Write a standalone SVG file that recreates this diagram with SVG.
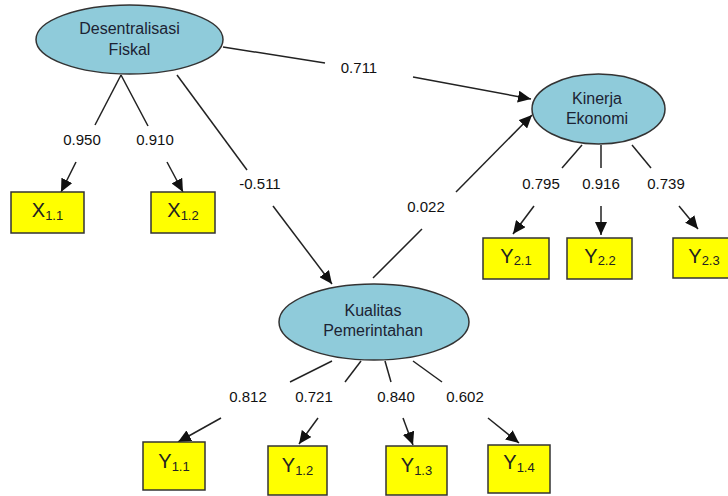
<svg xmlns="http://www.w3.org/2000/svg" width="728" height="496" viewBox="0 0 728 496">
<style>
.lat{fill:#8FCBDA;stroke:#333;stroke-width:1.5}
.box{fill:#FFFF00;stroke:#333;stroke-width:1.5}
.lt{font-family:"Liberation Sans",Arial,sans-serif;font-size:16px;fill:#1c2333;text-anchor:middle}
.lbl{font-family:"Liberation Sans",Arial,sans-serif;font-size:15px;fill:#111;text-anchor:middle}
.bt{font-family:"Liberation Sans",Arial,sans-serif;font-size:20px;fill:#222;text-anchor:middle}
.sub{font-size:13px}
.ln{stroke:#222;stroke-width:1.5;fill:none}
.ar{stroke:#222;stroke-width:1.5;fill:none;marker-end:url(#ah)}
</style>
<defs>
<marker id="ah" markerUnits="userSpaceOnUse" markerWidth="14" markerHeight="12" refX="13" refY="6" orient="auto">
<path d="M0,0 L13,6 L0,12 Z" fill="#111"/>
</marker>
</defs>
<rect width="728" height="496" fill="#fff"/>
<g id="connectors">
<line class="ln" x1="121" y1="75" x2="95" y2="125"/>
<line class="ar" x1="76" y1="162" x2="61" y2="192"/>
<line class="ln" x1="121" y1="75" x2="148" y2="126"/>
<line class="ar" x1="167" y1="162" x2="183" y2="192"/>
<line class="ln" x1="177" y1="75" x2="247" y2="170"/>
<line class="ar" x1="273" y1="206" x2="332" y2="284"/>
<line class="ln" x1="223" y1="47" x2="325" y2="63"/>
<line class="ar" x1="413" y1="77" x2="531" y2="99"/>
<line class="ln" x1="373" y1="278" x2="422" y2="229"/>
<line class="ar" x1="456" y1="192" x2="532" y2="115"/>
<line class="ln" x1="582" y1="145" x2="562" y2="168"/>
<line class="ar" x1="534" y1="206" x2="513" y2="234"/>
<line class="ln" x1="601" y1="145" x2="601" y2="168"/>
<line class="ar" x1="601" y1="206" x2="601" y2="235"/>
<line class="ln" x1="632" y1="145" x2="651" y2="168"/>
<line class="ar" x1="679" y1="206" x2="698" y2="229"/>
<line class="ln" x1="332" y1="361" x2="290" y2="382"/>
<line class="ar" x1="221" y1="418" x2="178" y2="442"/>
<line class="ln" x1="361" y1="361" x2="345" y2="382"/>
<line class="ar" x1="318" y1="418" x2="299" y2="444"/>
<line class="ln" x1="385" y1="361" x2="391" y2="382"/>
<line class="ar" x1="403" y1="418" x2="413" y2="445"/>
<line class="ln" x1="413" y1="361" x2="442" y2="382"/>
<line class="ar" x1="488" y1="418" x2="519" y2="443"/>
<text class="lbl" x="82" y="145">0.950</text>
<text class="lbl" x="155" y="145">0.910</text>
<text class="lbl" x="260" y="189">-0.511</text>
<text class="lbl" x="359" y="73">0.711</text>
<text class="lbl" x="426" y="212">0.022</text>
<text class="lbl" x="541" y="189">0.795</text>
<text class="lbl" x="601" y="189">0.916</text>
<text class="lbl" x="666" y="189">0.739</text>
<text class="lbl" x="248" y="402">0.812</text>
<text class="lbl" x="314" y="402">0.721</text>
<text class="lbl" x="396" y="402">0.840</text>
<text class="lbl" x="465" y="402">0.602</text>
</g>
<g id="desentralisasi-fiskal">
<ellipse class="lat" cx="129.5" cy="39.5" rx="93.5" ry="34.5"/>
<text class="lt" x="129.5" y="34">Desentralisasi</text>
<text class="lt" x="129.5" y="55">Fiskal</text>
</g>
<g id="kinerja-ekonomi">
<ellipse class="lat" cx="598.5" cy="109" rx="66.5" ry="35"/>
<text class="lt" x="597" y="104">Kinerja</text>
<text class="lt" x="597" y="124">Ekonomi</text>
</g>
<g id="kualitas-pemerintahan">
<ellipse class="lat" cx="374" cy="322" rx="95" ry="38"/>
<text class="lt" x="373" y="316">Kualitas</text>
<text class="lt" x="373" y="336">Pemerintahan</text>
</g>
<g id="x11"><rect class="box" x="11" y="192" width="73" height="41"/><text class="bt" x="47.5" y="217">X<tspan class="sub" dy="3">1.1</tspan></text></g>
<g id="x12"><rect class="box" x="151" y="192" width="64" height="41"/><text class="bt" x="183" y="217">X<tspan class="sub" dy="3">1.2</tspan></text></g>
<g id="y21"><rect class="box" x="483" y="238" width="66" height="41"/><text class="bt" x="516" y="263">Y<tspan class="sub" dy="2">2.1</tspan></text></g>
<g id="y22"><rect class="box" x="567" y="238" width="65" height="41"/><text class="bt" x="600" y="263">Y<tspan class="sub" dy="2">2.2</tspan></text></g>
<g id="y23"><rect class="box" x="673" y="238" width="62" height="40"/><text class="bt" x="704" y="263">Y<tspan class="sub" dy="2">2.3</tspan></text></g>
<g id="y11"><rect class="box" x="143" y="442" width="62" height="48"/><text class="bt" x="174" y="468">Y<tspan class="sub" dy="3">1.1</tspan></text></g>
<g id="y12"><rect class="box" x="268" y="446" width="59" height="49"/><text class="bt" x="297.5" y="472">Y<tspan class="sub" dy="3">1.2</tspan></text></g>
<g id="y13"><rect class="box" x="386" y="446" width="61" height="49"/><text class="bt" x="416.5" y="472">Y<tspan class="sub" dy="3">1.3</tspan></text></g>
<g id="y14"><rect class="box" x="488" y="445" width="62" height="48"/><text class="bt" x="519" y="469">Y<tspan class="sub" dy="3">1.4</tspan></text></g>
</svg>
